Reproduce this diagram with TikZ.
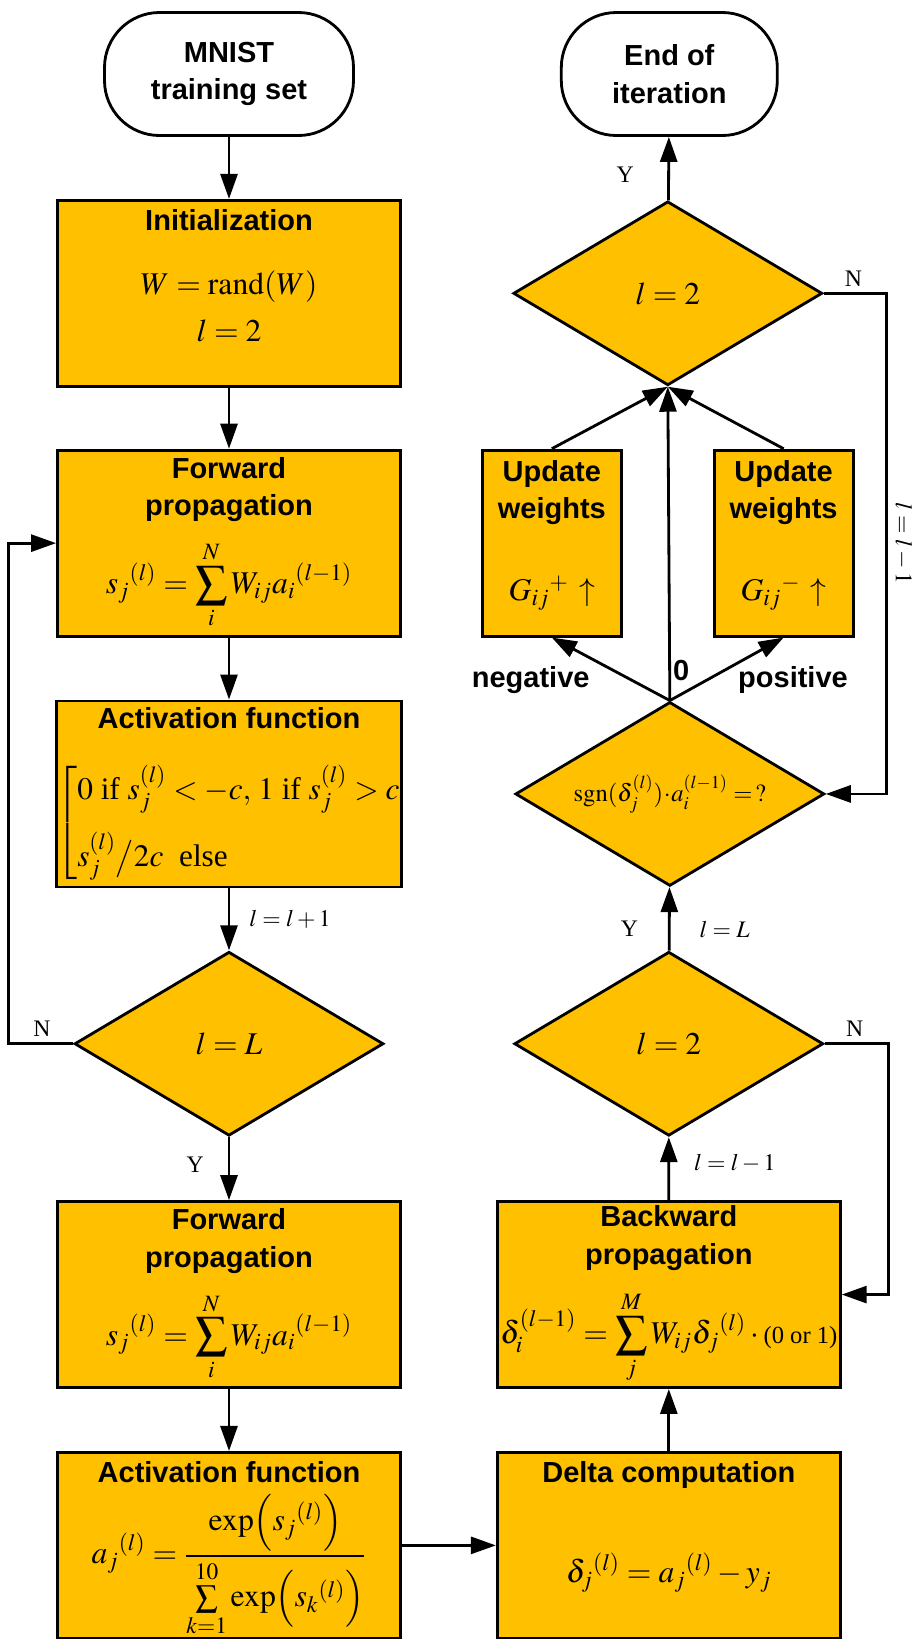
\documentclass[tikz,border=0pt]{standalone}
\usepackage{amsmath}
\usepackage{mathptmx}
\usepackage{fontspec}
\setmainfont{Liberation Serif}
\setsansfont{Liberation Sans}
\usetikzlibrary{arrows.meta,positioning,shapes.geometric}
\definecolor{amber}{RGB}{255,192,0}
\newcommand{\hd}[1]{{\sffamily\bfseries\fontsize{16.5}{21.5}\selectfont #1}}

\begin{document}
\begin{tikzpicture}[font=\fontsize{18}{21.5}\selectfont, node distance=1.24cm,
box/.style={draw, fill=amber, line width=1.6pt, minimum width=6.86cm, minimum height=3.72cm, inner sep=0pt, align=center},
upd/.style={box, minimum width=2.78cm},
term/.style={draw, line width=1.6pt, rounded corners=1.1cm, minimum height=2.46cm, align=center, font=\sffamily\bfseries\fontsize{16.5}{21.5}\selectfont},
dec/.style={diamond, draw, fill=amber, line width=1.6pt, minimum width=6.18cm, minimum height=3.68cm, inner sep=0pt},
arrow/.style={-{Triangle[length=5mm, width=3.4mm]}, line width=1.6pt},
lbl/.style={font=\fontsize{13.5}{16}\selectfont}]
\useasboundingbox (0,0) rectangle (18.38,-32.78);
\clip (0,0) rectangle (18.38,-32.78);
% forward pass
\node[term, minimum width=4.98cm] (start) at (4.58,-1.48) {MNIST\\training set};
\node[box, below=of start] (init) {\hd{Initialization}\\[14.9pt]$W=\mathrm{rand}(W)$\\[5.2pt]$l=2$\\[-1.6pt]\mbox{}};
\node[box, below=1.22cm of init] (fwdA) {\hd{Forward}\\\hd{propagation}\\[10pt]$\displaystyle s_j{}^{(l)}=\sum_i^N W_{ij}a_i{}^{(l-1)}$};
\node[box, below=of fwdA] (actA) {\hd{Activation function}\\[20pt]{\fontsize{17.8}{21}\selectfont$\left[\begin{array}{@{}l@{}}0\text{ if }s_j^{(l)}<-c,\,1\text{ if }s_j^{(l)}>c\\[12.5pt] s_j^{(l)}\big/2c\ \text{ else}\end{array}\right.$}};
\node[dec, below=of actA] (chkL) {$l=L$};
\node[box, below=1.26cm of chkL] (fwdB) {\hd{Forward}\\\hd{propagation}\\[10pt]$\displaystyle s_j{}^{(l)}=\sum_i^N W_{ij}a_i{}^{(l-1)}$};
\node[box, below=of fwdB] (actB) {\hd{Activation function}\\[25pt]$\displaystyle a_j{}^{(l)}=\smash{\frac{\exp\Bigl(s_j{}^{(l)}\Bigr)}{\sum\limits_{k=1}^{10}\exp\Bigl(s_k{}^{(l)}\Bigr)}}$\\[16pt]\mbox{}};
% backward pass
\node[box, right=1.88cm of actB] (delta) {\hd{Delta computation}\\[35pt]$\delta_j{}^{(l)}=a_j{}^{(l)}-y_j$\\[5pt]\mbox{}};
\node[box, right=1.88cm of fwdB] (bwd) {\hd{Backward}\\\hd{propagation}\\[11pt]$\displaystyle\delta_i^{(l-1)}=\sum_j^M W_{ij}\delta_j{}^{(l)}\cdot\text{\fontsize{14}{16}\selectfont(0 or 1)}$};
\node[dec, right=2.56cm of chkL] (chkB) {$l=2$};
\node[dec, right=2.22cm of actA] (sgn) {\makebox[0pt]{\fontsize{14}{17}\selectfont$\mathrm{sgn}(\delta_j^{(l)})\mkern-2mu\cdot\mkern-2mu a_i^{(l-1)}=\,?$}};
\node[upd, right=1.58cm of fwdA] (updN) {\hd{Update}\\\hd{weights}\\[25pt]$G_{ij}{}^{+}\,\uparrow$\\[-7pt]\mbox{}};
\node[upd, right=1.8cm of updN] (updP) {\hd{Update}\\\hd{weights}\\[25pt]$G_{ij}{}^{-}\,\uparrow$\\[-7pt]\mbox{}};
\node[dec, right=2.2cm of init] (chkT) {$l=2$};
\node[term, minimum width=4.32cm, right=4.1cm of start] (stop) {End of\\iteration};
\node[inner sep=0pt, anchor=base east] (neg) at ([shift={(-1.6,0.26)}]sgn.north) {\hd{negative}};
\node[inner sep=0pt, anchor=base west] (zero) at ([shift={(0.06,0.4)}]sgn.north) {\hd{0}};
\node[inner sep=0pt, anchor=base west] (pos) at ([shift={(1.36,0.26)}]sgn.north) {\hd{positive}};
\draw[arrow] (start)--(init);
\draw[arrow] (init)--(fwdA);
\draw[arrow] (fwdA)--(actA);
\draw[arrow] (actA)--node[lbl, right=0.26cm]{$l=l+1$}(chkL);
\draw[arrow] (chkL)--node[lbl, left=0.36cm, pos=0.44]{Y}(fwdB);
\draw[arrow] (chkL.west)--node[lbl, above, pos=0.48]{N}++(-1.3,0)|-(fwdA.west);
\draw[arrow] (fwdB)--(actB);
\draw[arrow] (actB)--(delta);
\draw[arrow] (delta)--(bwd);
\draw[arrow] (bwd)--node[lbl, right=0.36cm, pos=0.58]{$l=l-1$}(chkB);
\draw[arrow] (chkB.east)--node[lbl, above, pos=0.47]{N}++(1.28,0)|-(bwd.east);
\draw[arrow] (chkB)--node[lbl, left=0.48cm, pos=0.34]{Y} node[lbl, right=0.46cm, pos=0.34]{$l=L$}(sgn);
\draw[arrow] (sgn.north)--(updN.south);
\draw[arrow] (sgn.north)--(updP.south);
\draw[arrow] (sgn.north)--(chkT.south);
\draw[arrow] (updN.north)--(chkT.south);
\draw[arrow] (updP.north)--(chkT.south);
\draw[arrow] (chkT)--node[lbl, left=0.55cm, pos=0.4]{Y}(stop);
\draw[arrow] (chkT.east)--node[lbl, above, pos=0.47]{N}++(1.26,0)|-node[lbl, pos=0.25, rotate=-90, anchor=south]{$l=l-1$}(sgn.east);
\end{tikzpicture}
\end{document}
